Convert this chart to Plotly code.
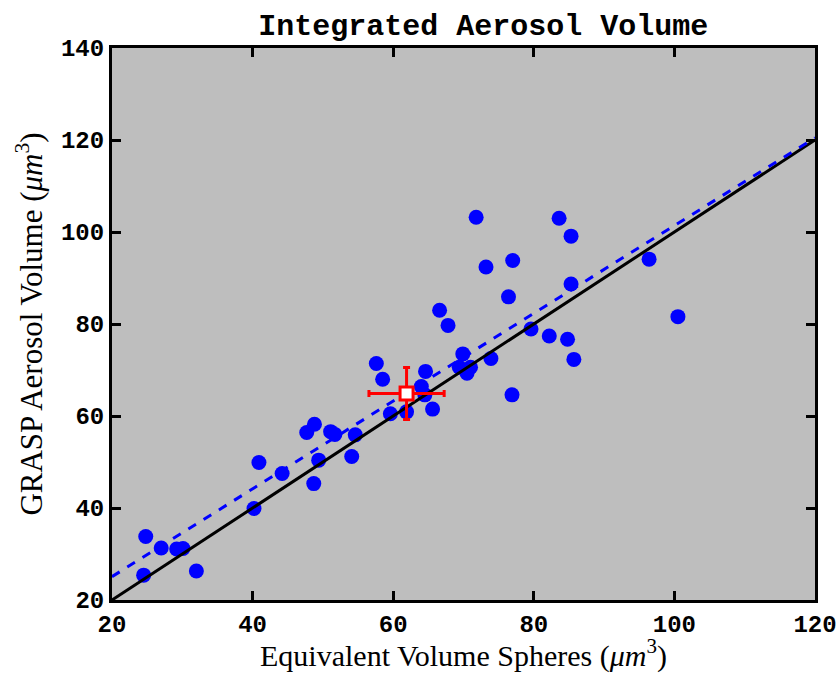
import plotly.graph_objects as go

# Data
eq_volume = [24.8, 24.5, 27.0, 29.2, 30.1, 32.0, 40.2, 40.9, 44.2, 47.7, 48.8, 48.7,
             49.4, 51.1, 51.7, 54.1, 54.6, 57.6, 58.5, 59.6, 61.9, 64.0, 64.5, 64.6,
             65.6, 66.6, 67.8, 69.4, 69.9, 70.5, 71.0, 71.8, 73.2, 73.9, 76.4, 76.9,
             77.0, 79.6, 82.2, 83.6, 84.8, 85.3, 85.3, 85.7, 96.4, 100.5]
grasp_volume = [33.8, 25.4, 31.3, 31.1, 31.2, 26.3, 39.9, 49.9, 47.5, 56.4, 58.2, 45.3,
                50.4, 56.6, 56.0, 51.2, 55.9, 71.4, 68.0, 60.5, 60.9, 66.4, 64.6, 69.7,
                61.5, 83.0, 79.7, 70.6, 73.5, 69.3, 70.6, 103.2, 92.4, 72.5, 85.9, 64.6,
                93.8, 78.9, 77.4, 103.0, 76.7, 99.1, 88.7, 72.3, 94.1, 81.6]

mean_x = [61.9]
mean_y = [64.9]
std_x = [5.35]
std_y = [5.65]

line_range = [20, 120]
fit_slope = 0.954
fit_intercept = 6.0

x_ticks = [20, 40, 60, 80, 100, 120]
y_ticks = [20, 40, 60, 80, 100, 120, 140]

fig = go.Figure()

fig.add_trace(go.Scatter(
    x=eq_volume, y=grasp_volume, mode="markers",
    marker=dict(color="#0000ff", size=15, line=dict(width=0)),
    showlegend=False))

fig.add_trace(go.Scatter(
    x=line_range, y=line_range, mode="lines",
    line=dict(color="black", width=3), showlegend=False))

fig.add_trace(go.Scatter(
    x=line_range, y=[fit_slope * v + fit_intercept for v in line_range], mode="lines",
    line=dict(color="#0000ff", width=3, dash="dash"), showlegend=False))

fig.add_trace(go.Scatter(
    x=mean_x, y=mean_y, mode="markers",
    marker=dict(symbol="square", color="white", size=13, line=dict(color="#ff0000", width=3)),
    error_x=dict(type="data", array=std_x, color="#ff0000", thickness=3, width=3.5),
    error_y=dict(type="data", array=std_y, color="#ff0000", thickness=3, width=3.5),
    showlegend=False))

axis_common = dict(
    showgrid=False, zeroline=False, showline=True, linecolor="black", linewidth=3,
    mirror="ticks", ticks="inside", ticklen=9, tickwidth=3, tickcolor="black",
    automargin=False, ticklabeloverflow="allow",
    tickfont=dict(family="Liberation Mono", size=24, color="black", weight="bold"),
)

fig.update_layout(
    width=836, height=673,
    margin=dict(l=112, r=21, t=48, b=73),
    paper_bgcolor="white", plot_bgcolor="#bebebe",
    title=dict(text="<b>Integrated Aerosol Volume</b>", x=0.578, xanchor="center",
               y=0.963, yanchor="middle",
               font=dict(family="Liberation Mono", size=30, color="black")),
    xaxis=dict(range=[20, 120], tickvals=x_ticks, **axis_common,
               title=dict(text="Equivalent Volume Spheres (<i>μm</i><sup>3</sup>)",
                          font=dict(family="Liberation Serif", size=30, color="black"),
                          standoff=8)),
    yaxis=dict(range=[20, 140], tickvals=y_ticks, **axis_common,
               title=dict(text="GRASP Aerosol Volume (<i>μm</i><sup>3</sup>)",
                          font=dict(family="Liberation Serif", size=31, color="black"),
                          standoff=10)),
)

fig.write_html("out.html",
               config={"displayModeBar": False},
               post_script="document.body.style.margin='0';document.body.style.overflow='hidden';")
